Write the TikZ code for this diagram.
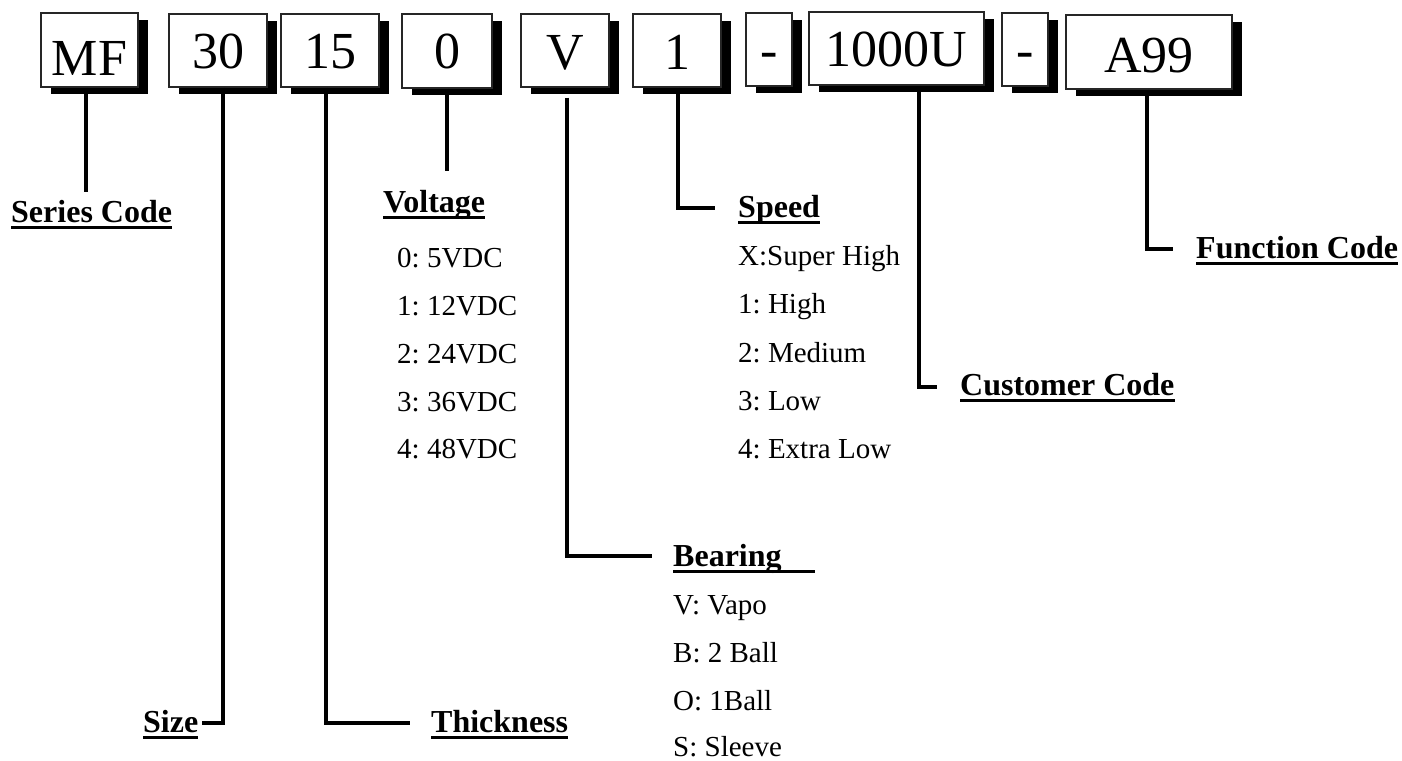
\documentclass[tikz,border=0pt]{standalone}
\usepackage{fontspec}
\setmainfont{Liberation Serif}
\frenchspacing
\usetikzlibrary{shadows}
\newcommand{\boxfont}{\fontsize{52}{52}\selectfont}
\newcommand{\headfont}{\fontsize{32}{32}\selectfont\bfseries}
\newcommand{\itemfont}{\fontsize{29}{29}\selectfont}
\tikzset{
  codebox/.style={draw=black!85, line width=1.2pt, fill=white, inner sep=0pt,
    text height=36pt, text depth=0pt,
    font=\boxfont, drop shadow={shadow xshift=10pt, shadow yshift=-7pt, fill=black, opacity=1}},
  header/.style={font=\headfont, inner sep=0pt, anchor=base west},
  itemtext/.style={font=\itemfont, inner sep=0pt, anchor=base west},
  conn/.style={line width=4pt, line join=miter},
  uline/.style={line width=3pt}
}
\begin{document}
\begin{tikzpicture}[x=1pt,y=-1pt]
\frenchspacing
\useasboundingbox (0,0) rectangle (1402,760);
% code boxes
\node[codebox, minimum width=97pt, minimum height=74pt] (mf) at (89.5,50) {\raisebox{-7.5pt}{MF}};
\node[codebox, minimum width=98pt, minimum height=73pt] (s30) at (218,50.5) {30};
\node[codebox, minimum width=98pt, minimum height=73pt] (s15) at (330,50.5) {\raisebox{-0.5pt}{15}};
\node[codebox, minimum width=90pt, minimum height=74pt] (v0) at (447,51) {0};
\node[codebox, minimum width=88pt, minimum height=73pt] (bv) at (565,50.5) {\raisebox{-1.5pt}{V}};
\node[codebox, minimum width=88pt, minimum height=73pt] (s1) at (677,50.5) {\raisebox{-1.5pt}{1}};
\node[codebox, minimum width=46pt, minimum height=73pt] (d1) at (769,49.5) {-};
\node[codebox, minimum width=175pt, minimum height=73pt] (cu) at (896.5,48.5) {1000U};
\node[codebox, minimum width=46pt, minimum height=73pt] (d2) at (1025,49.5) {-};
\node[codebox, minimum width=166pt, minimum height=74pt] (fn) at (1149,52) {\raisebox{-2pt}{A99}};
% headers
\node[header] (sc) at (11,222) {Series Code};
\node[header] (sz) at (143,732) {Size};
\node[header] (th) at (431,732) {Thickness};
\node[header] (vo) at (383,212) {Voltage};
\node[header] (be) at (673,566) {Bearing};
\node[header] (sp) at (738,217) {Speed};
\node[header] (cc) at (960,395) {Customer Code};
\node[header] (fc) at (1196,258) {Function Code};
% underlines
\foreach \h in {sc,sz,th,vo,sp,cc,fc}{
  \draw[uline] ([yshift=-5pt]\h.base west) -- ([yshift=-5pt]\h.base east);
}
\draw[uline] ([yshift=-5pt]be.base west) -- ([xshift=33pt,yshift=-5pt]be.base east);
% lists
\node[itemtext] (v1) at (397,267) {0: 5VDC};
\node[itemtext] (v2) at (397,315) {1: 12VDC};
\node[itemtext] (v3) at (397,363) {2: 24VDC};
\node[itemtext] (v4) at (397,411) {3: 36VDC};
\node[itemtext] (v5) at (397,458) {4: 48VDC};
\node[itemtext] (p1) at (738,265) {X:Super High};
\node[itemtext] (p2) at (738,313) {1: High};
\node[itemtext] (p3) at (738,362) {2: Medium};
\node[itemtext] (p4) at (738,410) {3: Low};
\node[itemtext] (p5) at (738,458) {4: Extra Low};
\node[itemtext] (b1) at (673,614) {V: Vapo};
\node[itemtext] (b2) at (673,662) {B: 2 Ball};
\node[itemtext] (b3) at (673,710) {O: 1Ball};
\node[itemtext] (b4) at (673,756) {S: Sleeve};
% connectors
\draw[conn] ([xshift=-3.5pt]mf.south) -- ++(0,104);
\draw[conn] ([xshift=5pt]s30.south) |- ([xshift=4pt,yshift=9pt]sz.base east);
\draw[conn] ([xshift=-4pt]s15.south) |- ([xshift=-21pt,yshift=9pt]th.base west);
\draw[conn] (v0.south) -- ++(0,82);
\draw[conn] ([xshift=2pt,yshift=-10pt]bv.south) |- ([xshift=-21pt,yshift=10pt]be.base west);
\draw[conn] ([xshift=1pt]s1.south) |- ([xshift=-23pt,yshift=9pt]sp.base west);
\draw[conn] ([xshift=22.5pt]cu.south) |- ([xshift=-23pt,yshift=8pt]cc.base west);
\draw[conn] ([xshift=-2pt]fn.south) |- ([xshift=-23pt,yshift=9pt]fc.base west);
\end{tikzpicture}
\end{document}
